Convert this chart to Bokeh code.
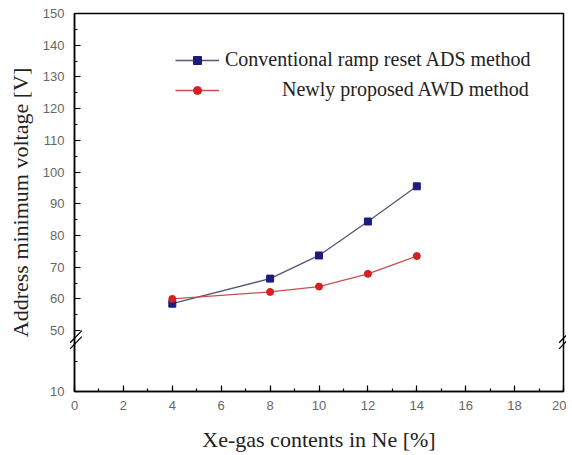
from bokeh.plotting import figure
from bokeh.models import Range1d, FixedTicker, Legend, LegendItem
from bokeh.embed import file_html
from bokeh.resources import INLINE

# ---- data ----
xe_content = [4, 8, 10, 12, 14]
ads_voltage = [58.5, 66.4, 73.7, 84.4, 95.5]
awd_voltage = [60.0, 62.2, 63.9, 67.9, 73.5]
x_ticks = [0, 2, 4, 6, 8, 10, 12, 14, 16, 18, 20]
y_ticks = [10, 50, 60, 70, 80, 90, 100, 110, 120, 130, 140, 150]
y_minor = [30, 55, 65, 75, 85, 95, 105, 115, 125, 135, 145]
ads_label = "Conventional ramp reset ADS method"
awd_label = "Newly proposed AWD method"

# broken axis: values below BREAK are compressed
BREAK = 50
LOW_SCALE = 0.48


def ty(v):
    return v if v >= BREAK else BREAK - (BREAK - v) * LOW_SCALE


p = figure(width=566, height=454, output_backend="svg", toolbar_location=None,
           x_range=Range1d(0, 20), y_range=Range1d(ty(10), 150),
           min_border_left=74, min_border_right=3, min_border_top=13, min_border_bottom=61)
p.xgrid.visible = False
p.ygrid.visible = False
p.outline_line_color = "black"
p.outline_line_width = 1.5
p.background_fill_color = "white"
p.border_fill_color = "white"

blue = "#1c1c80"
red = "#d42020"

l1 = p.line(xe_content, [ty(v) for v in ads_voltage], line_color="#555577", line_width=1.3)
s1 = p.scatter(xe_content, [ty(v) for v in ads_voltage], marker="square", size=7,
               fill_color=blue, line_color=blue)
l2 = p.line(xe_content, [ty(v) for v in awd_voltage], line_color="#c85050", line_width=1.3)
s2 = p.scatter(xe_content, [ty(v) for v in awd_voltage], marker="circle", size=7,
               fill_color=red, line_color=red)

# axes
tick_font = "Liberation Sans"
for ax in (p.xaxis[0], p.yaxis[0]):
    ax.axis_line_width = 1.5
    ax.major_tick_in = 6
    ax.major_tick_out = 0
    ax.minor_tick_in = 3
    ax.minor_tick_out = 0
    ax.major_tick_line_width = 1.2
    ax.minor_tick_line_width = 1.2
    ax.major_label_text_font = tick_font
    ax.major_label_text_font_size = "13px"
    ax.major_label_text_color = "#666666"
    ax.axis_label_text_font = "Liberation Serif"
    ax.axis_label_text_font_style = "normal"
    ax.axis_label_text_font_size = "22px"
    ax.axis_label_text_color = "#222222"

p.xaxis[0].ticker = FixedTicker(ticks=x_ticks, minor_ticks=list(range(0, 21)))
p.xaxis[0].axis_label = "Xe-gas contents in Ne [%]"
p.xaxis[0].major_label_standoff = 9
p.xaxis[0].axis_label_standoff = 14

p.yaxis[0].ticker = FixedTicker(ticks=[ty(v) for v in y_ticks],
                                minor_ticks=[ty(v) for v in y_minor])
p.yaxis[0].major_label_overrides = {ty(v): str(v) for v in y_ticks}
p.yaxis[0].axis_label = "Address minimum voltage [V]"
p.yaxis[0].major_label_standoff = 10
p.yaxis[0].axis_label_standoff = 7

# axis-break marks (//) on left and right frame edges
bx0 = [-0.18, -0.18, 19.82, 19.82]
bx1 = [0.3, 0.3, 20.3, 20.3]
by0 = [ty(42), ty(38), ty(42), ty(38)]
by1 = [ty(50), ty(46), ty(50), ty(46)]
brk = p.segment(bx0, by0, bx1, by1, line_color="black", line_width=1.2)
brk.level = "overlay"

# legends (two, so the second label can sit right-aligned)
common = dict(padding=0, margin=0, spacing=0, border_line_alpha=0,
              background_fill_alpha=0, glyph_width=44, glyph_height=20,
              label_text_font="Liberation Serif", label_text_font_size="20px",
              label_text_color="#222222", label_height=20)
leg1 = Legend(items=[LegendItem(label=ads_label, renderers=[l1, s1])],
              location=(101, 320), label_standoff=6, **common)
leg2 = Legend(items=[LegendItem(label=awd_label, renderers=[l2, s2])],
              location=(101, 290), label_standoff=63, **common)
p.add_layout(leg1, "center")
p.add_layout(leg2, "center")

open("out.html", "w").write(file_html(p, INLINE))
